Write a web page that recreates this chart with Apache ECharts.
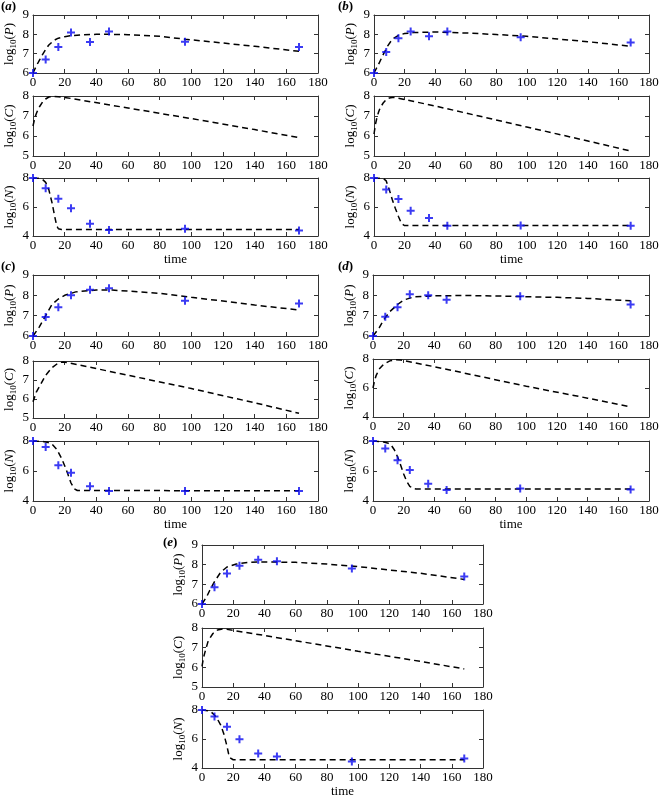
<!DOCTYPE html>
<html><head><meta charset="utf-8">
<script src="https://cdn.jsdelivr.net/npm/echarts@6/dist/echarts.min.js"></script>
<style>html,body{margin:0;padding:0;background:#fff}#c{width:668px;height:799px}</style>
</head><body><div id="c"></div>
<script>
// ---------- shared ----------
const tObs = [0, 8, 16, 24, 36, 48, 96, 168];
const tRange = [0, 180, 20];
const pRange = [6, 9, 1];
const cRange = [5, 8, 1];
const cRangeD = [4, 8, 2];
const nRange = [4, 8, 2];
const panelLabels = ['a', 'b', 'c', 'd', 'e'];

// ---------- panel (a) ----------
const aPObs = [6.0, 6.7, 7.35, 8.1, 7.6, 8.15, 7.62, 7.35];
const aPFitT = [0, 2, 4, 6, 8, 10, 12, 14, 16, 20, 25, 30, 40, 50, 60, 80, 96, 120, 140, 168];
const aPFit = [6.0, 6.35, 6.65, 6.95, 7.22, 7.45, 7.6, 7.72, 7.8, 7.88, 7.94, 7.97, 8.0, 8.0, 7.98, 7.9, 7.75, 7.55, 7.38, 7.12];
const aCFitT = [0, 1, 2, 3, 4, 6, 8, 10, 12, 16, 20, 60, 100, 140, 168];
const aCFit = [6.5, 6.85, 7.1, 7.3, 7.45, 7.7, 7.85, 7.95, 7.98, 7.96, 7.93, 7.4, 6.87, 6.32, 5.92];
const aNObs = [8.0, 7.3, 6.57, 5.92, 4.85, 4.42, 4.5, 4.38];
const aNFitT = [0, 4, 6, 8, 10, 12, 14, 15, 16, 18, 168];
const aNFit = [8.0, 7.98, 7.9, 7.7, 7.2, 6.3, 5.2, 4.7, 4.5, 4.45, 4.45];

// ---------- panel (b) ----------
const bPObs = [6.0, 7.08, 7.8, 8.15, 7.9, 8.15, 7.85, 7.58];
const bPFitT = [0, 3, 6, 9, 12, 16, 20, 26, 40, 60, 80, 100, 120, 140, 168];
const bPFit = [6.0, 6.45, 6.95, 7.4, 7.75, 7.95, 8.04, 8.09, 8.12, 8.07, 7.99, 7.9, 7.76, 7.62, 7.38];
const bCFitT = [0, 1, 2, 3, 4, 6, 8, 10, 12, 14, 40, 100, 140, 168];
const bCFit = [6.1, 6.6, 6.95, 7.2, 7.4, 7.65, 7.82, 7.9, 7.93, 7.92, 7.5, 6.45, 5.75, 5.25];
const bNObs = [8.0, 7.2, 6.55, 5.75, 5.25, 4.7, 4.72, 4.7];
const bNFitT = [0, 6, 8, 10, 12, 14, 16, 18, 20, 168];
const bNFit = [8.0, 7.97, 7.8, 7.2, 6.5, 5.9, 5.35, 4.85, 4.72, 4.72];

// ---------- panel (c) ----------
const cPObs = [6.0, 6.93, 7.42, 8.0, 8.28, 8.35, 7.73, 7.6];
const cPFitT = [0, 4, 8, 12, 16, 20, 27, 40, 50, 60, 80, 100, 120, 140, 168];
const cPFit = [6.0, 6.45, 7.0, 7.55, 7.82, 8.0, 8.17, 8.26, 8.26, 8.21, 8.1, 7.9, 7.72, 7.52, 7.28];
const cCFitT = [0, 2, 5, 8, 12, 16, 19, 22, 40, 100, 140, 168];
const cCFit = [5.85, 6.35, 6.8, 7.25, 7.65, 7.9, 7.95, 7.92, 7.6, 6.55, 5.8, 5.25];
const cNObs = [8.0, 7.6, 6.38, 5.88, 4.98, 4.67, 4.67, 4.67];
const cNFitT = [0, 6, 9, 12, 15, 18, 20, 22, 24, 26, 28, 168];
const cNFit = [8.0, 7.98, 7.92, 7.8, 7.45, 6.85, 6.35, 5.8, 5.2, 4.82, 4.7, 4.68];

// ---------- panel (d) ----------
const dPObs = [6.0, 6.95, 7.42, 8.05, 8.0, 7.78, 7.95, 7.55];
const dPFitT = [0, 4, 7, 11, 16, 20, 27, 40, 60, 80, 100, 120, 140, 168];
const dPFit = [6.0, 6.4, 6.8, 7.2, 7.55, 7.77, 7.93, 7.98, 7.99, 7.97, 7.93, 7.9, 7.85, 7.73];
const dCFitT = [0, 1, 2, 4, 7, 11, 15, 18, 40, 100, 140, 168];
const dCFit = [6.0, 6.5, 6.85, 7.3, 7.65, 7.87, 7.95, 7.93, 7.47, 6.12, 5.3, 4.7];
const dNObs = [8.0, 7.5, 6.72, 6.06, 5.15, 4.73, 4.83, 4.77];
const dNFitT = [0, 7, 10, 12, 14, 16, 18, 20, 22, 24, 26, 28, 168];
const dNFit = [8.0, 7.93, 7.85, 7.7, 7.4, 6.95, 6.4, 5.8, 5.3, 4.98, 4.84, 4.8, 4.8];

// ---------- panel (e) ----------
const ePObs = [6.0, 6.85, 7.55, 7.95, 8.25, 8.18, 7.8, 7.4];
const ePFitT = [0, 3, 5, 8, 12, 16, 22, 30, 40, 60, 80, 100, 120, 140, 168];
const ePFit = [6.0, 6.37, 6.7, 7.14, 7.62, 7.88, 8.03, 8.12, 8.14, 8.12, 8.03, 7.9, 7.73, 7.56, 7.25];
const eCFitT = [0, 1, 2, 4, 7, 10, 13, 16, 40, 100, 140, 168];
const eCFit = [6.05, 6.5, 6.8, 7.35, 7.72, 7.9, 7.95, 7.93, 7.62, 6.82, 6.3, 5.92];
const eNObs = [8.0, 7.55, 6.85, 5.98, 5.0, 4.8, 4.45, 4.65];
const eNFitT = [0, 4, 6, 8, 10, 12, 14, 16, 17, 18, 20, 168];
const eNFit = [8.0, 7.95, 7.85, 7.65, 7.35, 6.95, 6.35, 5.5, 5.0, 4.7, 4.57, 4.57];

// ---------- layout ----------
const F = 'Liberation Serif';
const panels = [
  {lab: panelLabels[0], lx: 1, ly: 0, left: 33, width: 285, rows: [
    {top: 15, h: 58, v: 'P', r: pRange, obs: aPObs, ft: aPFitT, f: aPFit},
    {top: 96, h: 60, v: 'C', r: cRange, obs: null, ft: aCFitT, f: aCFit},
    {top: 178, h: 58, v: 'N', r: nRange, obs: aNObs, ft: aNFitT, f: aNFit}]},
  {lab: panelLabels[1], lx: 338, ly: 0, left: 374, width: 275, rows: [
    {top: 15, h: 58, v: 'P', r: pRange, obs: bPObs, ft: bPFitT, f: bPFit},
    {top: 96, h: 60, v: 'C', r: cRange, obs: null, ft: bCFitT, f: bCFit},
    {top: 178, h: 58, v: 'N', r: nRange, obs: bNObs, ft: bNFitT, f: bNFit}]},
  {lab: panelLabels[2], lx: 1, ly: 260, left: 33, width: 285, rows: [
    {top: 275, h: 61, v: 'P', r: pRange, obs: cPObs, ft: cPFitT, f: cPFit},
    {top: 361, h: 57, v: 'C', r: cRange, obs: null, ft: cCFitT, f: cCFit},
    {top: 441, h: 60, v: 'N', r: nRange, obs: cNObs, ft: cNFitT, f: cNFit}]},
  {lab: panelLabels[3], lx: 338, ly: 260, left: 373, width: 276, rows: [
    {top: 275, h: 61, v: 'P', r: pRange, obs: dPObs, ft: dPFitT, f: dPFit},
    {top: 359, h: 58, v: 'C', r: cRangeD, obs: null, ft: dCFitT, f: dCFit},
    {top: 441, h: 60, v: 'N', r: nRange, obs: dNObs, ft: dNFitT, f: dNFit}]},
  {lab: panelLabels[4], lx: 163, ly: 536, left: 202, width: 281, rows: [
    {top: 545, h: 59, v: 'P', r: pRange, obs: ePObs, ft: ePFitT, f: ePFit},
    {top: 628, h: 59, v: 'C', r: cRange, obs: null, ft: eCFitT, f: eCFit},
    {top: 710, h: 59, v: 'N', r: nRange, obs: eNObs, ft: eNFitT, f: eNFit}]}
];

const nameRich = {
  n: {fontFamily: F, fontSize: 13, color: '#000'},
  s: {fontFamily: F, fontSize: 9, color: '#000', padding: [7, 0, 0, 0]},
  i: {fontFamily: F, fontSize: 13, fontStyle: 'italic', color: '#000'}
};
const crossPath = 'path://M3,0h2v3h3v2h-3v3h-2v-3h-3v-2h3z';
const lineCol = '#333';

const grids = [], xAxes = [], yAxes = [], series = [], titles = [];
let g = 0;
panels.forEach(p => {
  titles.push({text: '{n|(}{i|' + p.lab + '}{n|)}', left: p.lx, top: p.ly, padding: 0,
    textStyle: {rich: nameRich}});
  p.rows.forEach((row, ri) => {
    grids.push({left: p.left, top: row.top, width: p.width, height: row.h, show: false});
    const isLast = ri === 2;
    const common = {type: 'value', gridIndex: g, splitLine: {show: false},
      axisLine: {show: true, onZero: false, lineStyle: {color: lineCol, width: 1}},
      axisTick: {show: true, inside: true, length: 4, lineStyle: {color: lineCol}}};
    xAxes.push(Object.assign({}, common, {position: 'bottom', min: tRange[0], max: tRange[1], interval: tRange[2],
      axisLabel: {fontFamily: F, fontSize: 13, color: '#000', margin: 3},
      name: isLast ? 'time' : '', nameLocation: 'middle', nameGap: 17,
      nameTextStyle: {fontFamily: F, fontSize: 13, color: '#000'}}));
    xAxes.push(Object.assign({}, common, {position: 'top', min: tRange[0], max: tRange[1], interval: tRange[2],
      axisLabel: {show: false}}));
    yAxes.push(Object.assign({}, common, {position: 'left', min: row.r[0], max: row.r[1], interval: row.r[2],
      axisLabel: {fontFamily: F, fontSize: 13, color: '#000', margin: 4},
      name: '{n|log}{s|10}{n|(}{i|' + row.v + '}{n|)}', nameLocation: 'middle', nameGap: 15,
      nameTextStyle: {rich: nameRich}}));
    yAxes.push(Object.assign({}, common, {position: 'right', min: row.r[0], max: row.r[1], interval: row.r[2],
      axisLabel: {show: false}}));
    series.push({type: 'line', xAxisIndex: 2 * g, yAxisIndex: 2 * g, showSymbol: false, silent: true,
      data: row.ft.map((t, k) => [t, row.f[k]]),
      lineStyle: {color: '#000', width: 1.5, type: [6, 4]}, z: 2});
    if (row.obs) {
      series.push({type: 'scatter', xAxisIndex: 2 * g, yAxisIndex: 2 * g, symbol: crossPath, symbolSize: 8,
        data: tObs.map((t, k) => [t, row.obs[k]]), itemStyle: {color: '#0a0af0'}, z: 3});
    }
    g++;
  });
});

const chart = echarts.init(document.getElementById('c'), null, {renderer: 'canvas'});
chart.setOption({animation: false, backgroundColor: '#fff', title: titles, grid: grids,
  xAxis: xAxes, yAxis: yAxes, series: series});
</script></body></html>
